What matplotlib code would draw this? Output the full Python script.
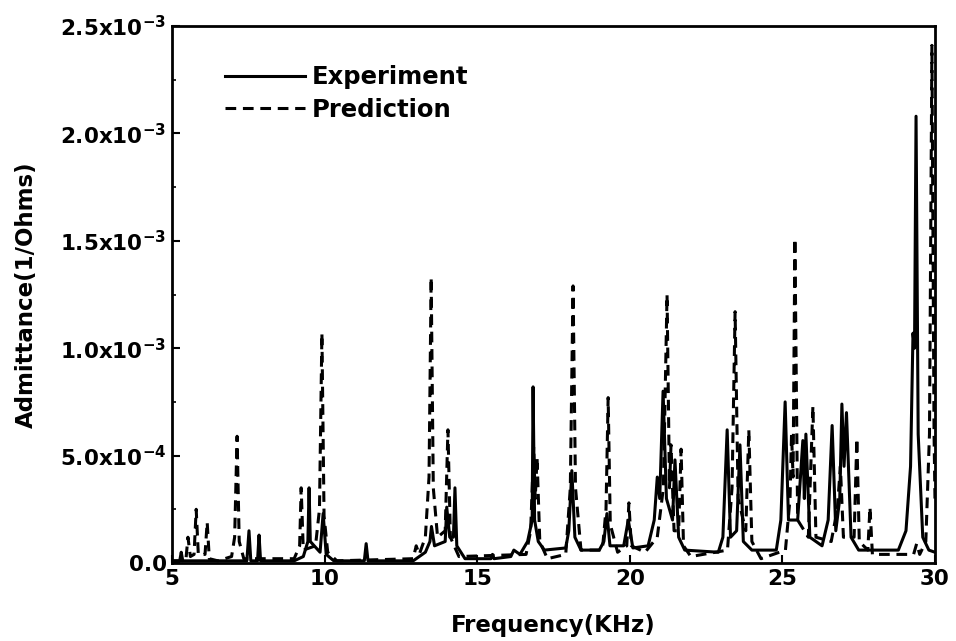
import matplotlib
matplotlib.use("Agg")
import matplotlib.pyplot as plt
from matplotlib.ticker import FixedLocator, MultipleLocator

plt.rcParams['font.family'] = ['DejaVu Sans']
plt.rcParams['font.weight'] = 'bold'
plt.rcParams['mathtext.fontset'] = 'custom'
plt.rcParams['mathtext.rm'] = 'DejaVu Sans:bold'
plt.rcParams['mathtext.it'] = 'DejaVu Sans:bold'
plt.rcParams['mathtext.bf'] = 'DejaVu Sans:bold'

# Experiment spectrum (frequency in kHz, admittance in 1e-3 1/Ohms)
exp_freq = [5.0, 5.25, 5.3, 5.35, 7.45, 7.52, 7.58, 7.80, 7.85, 7.90,
            9.0, 9.3, 9.45, 9.49, 9.53, 9.85, 9.95, 10.05, 10.3,
            11.30, 11.36, 11.42, 12.9, 13.3, 13.45, 13.5, 13.6,
            13.95, 14.0, 14.1, 14.22, 14.27, 14.33, 14.6,
            15.45, 15.5, 15.55, 16.1, 16.2, 16.4, 16.65, 16.8, 16.83, 16.88,
            17.0, 17.2, 17.9, 18.0, 18.1, 18.2, 18.4,
            19.0, 19.15, 19.25, 19.35, 19.8, 19.95, 20.1,
            20.6, 20.8, 20.9, 20.98, 21.09, 21.2, 21.4, 21.48, 21.6, 21.8,
            22.9, 23.05, 23.19, 23.3, 23.5, 23.61, 23.72, 24.0,
            24.8, 24.95, 25.09, 25.2, 25.5, 25.67, 25.72, 25.77, 25.9,
            26.3, 26.5, 26.63, 26.75, 26.88, 26.95, 27.02, 27.1, 27.25, 27.5,
            28.8, 29.05, 29.2, 29.28, 29.33, 29.38, 29.45, 29.6, 29.8, 30.0]
exp_adm = [0.01, 0.01, 0.05, 0.01, 0.01, 0.15, 0.01, 0.01, 0.13, 0.01,
           0.01, 0.03, 0.10, 0.35, 0.10, 0.05, 0.23, 0.04, 0.01,
           0.01, 0.09, 0.01, 0.01, 0.05, 0.10, 0.17, 0.08,
           0.10, 0.26, 0.12, 0.12, 0.35, 0.08, 0.02,
           0.02, 0.04, 0.02, 0.03, 0.06, 0.04, 0.10, 0.20, 0.82, 0.20,
           0.10, 0.06, 0.07, 0.15, 0.43, 0.12, 0.06,
           0.06, 0.10, 0.23, 0.08, 0.08, 0.20, 0.07,
           0.08, 0.20, 0.40, 0.30, 0.80, 0.30, 0.20, 0.48, 0.12, 0.06,
           0.05, 0.12, 0.62, 0.12, 0.15, 0.55, 0.10, 0.06,
           0.06, 0.20, 0.75, 0.20, 0.20, 0.57, 0.30, 0.60, 0.12,
           0.08, 0.20, 0.64, 0.15, 0.30, 0.74, 0.45, 0.70, 0.12, 0.06,
           0.06, 0.15, 0.45, 1.07, 1.00, 2.08, 0.60, 0.12, 0.06, 0.05]

# Prediction spectrum
pred_freq = [5.0, 5.45, 5.52, 5.6, 5.72, 5.79, 5.86, 6.08, 6.15, 6.22, 6.5,
             6.95, 7.05, 7.13, 7.2, 7.35, 9.0, 9.18, 9.23, 9.3,
             9.7, 9.83, 9.91, 9.98, 10.1, 10.4, 12.9, 13.0, 13.1,
             13.3, 13.42, 13.49, 13.56, 13.7, 13.95, 14.04, 14.12, 14.4,
             16.6, 16.75, 16.85, 16.9, 16.96, 17.05, 17.3,
             17.9, 18.05, 18.14, 18.22, 18.4, 19.1, 19.22, 19.29, 19.36, 19.6,
             19.9, 19.97, 20.05, 20.5, 20.9, 21.1, 21.22, 21.3, 21.35, 21.45,
             21.6, 21.68, 21.76, 22.0, 23.2, 23.35, 23.45, 23.55, 23.8, 23.9,
             24.0, 24.3, 25.1, 25.25, 25.3, 25.35, 25.41, 25.5, 25.85, 26.0,
             26.1, 26.6, 26.8, 26.9, 27.0, 27.35, 27.44, 27.52, 27.8, 27.87,
             27.95, 29.3, 29.4, 29.5, 29.7, 29.82, 29.9, 29.97, 30.0]
pred_adm = [0.01, 0.01, 0.12, 0.03, 0.04, 0.25, 0.04, 0.04, 0.19, 0.02, 0.01,
            0.03, 0.12, 0.59, 0.10, 0.02, 0.02, 0.08, 0.35, 0.06,
            0.08, 0.25, 1.07, 0.22, 0.05, 0.01, 0.02, 0.08, 0.04,
            0.12, 0.40, 1.33, 0.35, 0.12, 0.15, 0.62, 0.12, 0.03,
            0.04, 0.15, 0.54, 0.30, 0.49, 0.10, 0.02,
            0.04, 0.35, 1.29, 0.35, 0.06, 0.06, 0.25, 0.77, 0.18, 0.05,
            0.08, 0.28, 0.08, 0.05, 0.12, 0.35, 1.25, 0.35, 0.55, 0.15,
            0.15, 0.53, 0.08, 0.03, 0.06, 0.35, 1.17, 0.30, 0.15, 0.62,
            0.10, 0.02, 0.06, 0.30, 0.60, 0.40, 1.51, 0.20, 0.12, 0.73,
            0.12, 0.10, 0.25, 0.45, 0.12, 0.12, 0.58, 0.10, 0.06, 0.26,
            0.04, 0.04, 0.09, 0.04, 0.10, 0.60, 2.41, 0.60, 0.30]

scale = 1e-3
y_ticks = [0.0, 5e-4, 1.0e-3, 1.5e-3, 2.0e-3, 2.5e-3]
y_tick_labels = ['0.0', r'5.0x10$^{-4}$', r'1.0x10$^{-3}$', r'1.5x10$^{-3}$',
                 r'2.0x10$^{-3}$', r'2.5x10$^{-3}$']
x_ticks = [5, 10, 15, 20, 25, 30]

fig = plt.figure(figsize=(9.56, 6.41), dpi=100)
ax = fig.add_axes([0.18, 0.1217, 0.798, 0.8377])

ax.plot(exp_freq, [v * scale for v in exp_adm], color='black', lw=2.2,
        ls='-', label='Experiment')
ax.plot(pred_freq, [v * scale for v in pred_adm], color='black', lw=2.2,
        ls=(0, (3.5, 2.2)), label='Prediction')

ax.set_xlim(5, 30)
ax.set_ylim(0, 2.5e-3)
ax.yaxis.set_major_locator(FixedLocator(y_ticks))
ax.set_yticklabels(y_tick_labels)
ax.yaxis.set_minor_locator(MultipleLocator(2.5e-4))
ax.set_xticks(x_ticks)
ax.set_xticklabels([str(t) for t in x_ticks])

ax.tick_params(axis='both', which='major', direction='in', length=6, width=1.5,
               labelsize=15.5, pad=4)
ax.tick_params(axis='y', which='minor', direction='in', length=3, width=1.2)
for lab in ax.get_xticklabels() + ax.get_yticklabels():
    lab.set_fontweight('bold')
for sp in ax.spines.values():
    sp.set_linewidth(2.0)

ax.set_xlabel('Frequency(KHz)', fontsize=16.5, fontweight='bold', labelpad=18)
ax.set_ylabel('Admittance(1/Ohms)', fontsize=16.5, fontweight='bold', labelpad=16)

leg = ax.legend(loc='upper left', bbox_to_anchor=(0.057, 0.945), frameon=False,
                fontsize=17.5, handlelength=3.3, handletextpad=0.25,
                labelspacing=0.35, borderaxespad=0)
for t in leg.get_texts():
    t.set_fontweight('bold')

fig.savefig('out.png', dpi=100, facecolor='white')
